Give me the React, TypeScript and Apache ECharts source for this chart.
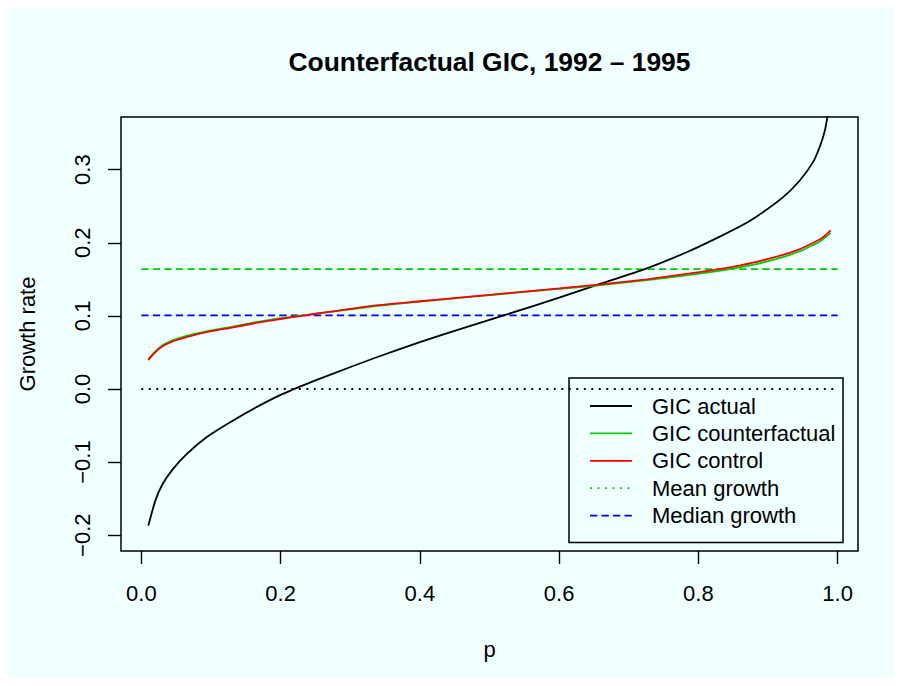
import React, { useEffect, useRef } from "react";
import * as echarts from "echarts";

const P = [0.01, 0.02, 0.03, 0.045, 0.065, 0.095, 0.13, 0.165, 0.2, 0.235, 0.267, 0.334, 0.4, 0.468, 0.525, 0.6, 0.66, 0.726, 0.788, 0.83, 0.86, 0.88, 0.92, 0.945, 0.965, 0.975, 0.982, 0.99];
const GIC_ACTUAL = [-0.187, -0.153, -0.131, -0.11, -0.089, -0.065, -0.044, -0.025, -0.008, 0.006, 0.018, 0.042, 0.064, 0.085, 0.102, 0.125, 0.144, 0.165, 0.189, 0.208, 0.2225, 0.2335, 0.261, 0.2845, 0.311, 0.333, 0.355, 0.4];
const GIC_COUNTERFACTUAL = [0.041, 0.0515, 0.0595, 0.0665, 0.0725, 0.079, 0.085, 0.0915, 0.0968, 0.101, 0.105, 0.113, 0.1195, 0.1255, 0.1305, 0.137, 0.142, 0.149, 0.156, 0.1615, 0.1665, 0.17, 0.18, 0.188, 0.197, 0.202, 0.207, 0.2135];
const GIC_CONTROL = [0.0395, 0.05, 0.058, 0.065, 0.071, 0.078, 0.084, 0.0903, 0.0957, 0.1008, 0.105, 0.114, 0.12, 0.126, 0.131, 0.1375, 0.143, 0.15, 0.158, 0.164, 0.169, 0.173, 0.183, 0.191, 0.2, 0.205, 0.21, 0.217];
const MEAN_GROWTH = 0.164;
const MEDIAN_GROWTH = 0.1008;
const ZERO_LINE = 0;
const X_TICKS = [0, 0.2, 0.4, 0.6, 0.8, 1.0];
const Y_TICKS = [-0.2, -0.1, 0, 0.1, 0.2, 0.3];
const LEGEND_LABELS = ["GIC actual", "GIC counterfactual", "GIC control", "Mean growth", "Median growth"];

const FONT = "'Liberation Sans', Arial, Helvetica, sans-serif";
const BG = "#F0FFFF";
const GREEN = "#00CD00";
const RED = "#FF0000";
const BLUE = "#0000FF";
const BLACK = "#000000";
const LW = 1.8;
const DASH = [7.3, 4.2];
const DOT = [1.9, 5.6];

const LEGEND_STYLES = [
  { color: BLACK, dash: null as number[] | null },
  { color: GREEN, dash: null },
  { color: RED, dash: null },
  { color: GREEN, dash: DOT },
  { color: BLUE, dash: DASH },
];

const fmt = (v: number) => {
  const s = Math.abs(v).toFixed(1);
  return v < -1e-9 ? "\u2212" + s : s;
};

export default function App() {
  const ref = useRef<HTMLDivElement>(null);
  useEffect(() => {
    const chart = echarts.init(ref.current!, null, { renderer: "svg" });
    const lineSeries = (name: string, data: number[][], color: string, dash: any, z = 2, smooth = false) => ({
      name,
      type: "line",
      data,
      symbol: "none",
      smooth: smooth ? 0.2 : false,
      clip: true,
      z,
      lineStyle: { color, width: LW, type: dash || "solid" },
      silent: true,
    });

    const legendX = 561;
    const legendY = 370;
    const legendW = 274;
    const legendH = 164.5;
    const rowY0 = 398;
    const rowDY = 27.4;
    const legendChildren: any[] = [
      {
        type: "rect",
        shape: { x: legendX, y: legendY, width: legendW, height: legendH },
        style: { fill: BG, stroke: BLACK, lineWidth: 1.5 },
      },
    ];
    LEGEND_LABELS.forEach((lab, i) => {
      const y = rowY0 + i * rowDY;
      legendChildren.push({
        type: "line",
        shape: { x1: 582, y1: y, x2: 624, y2: y },
        style: {
          stroke: LEGEND_STYLES[i].color,
          lineWidth: LW,
          lineDash: LEGEND_STYLES[i].dash || undefined,
        },
      });
      legendChildren.push({
        type: "text",
        x: 644,
        y,
        style: {
          text: lab,
          fill: BLACK,
          fontSize: 22,
          fontFamily: FONT,
          verticalAlign: "middle",
          textAlign: "left",
        },
      });
    });

    const option: any = {
      animation: false,
      backgroundColor: BG,
      grid: {
        left: 113,
        top: 109,
        width: 737,
        height: 434,
        show: true,
        borderColor: BLACK,
        borderWidth: 1.5,
        backgroundColor: "transparent",
        containLabel: false,
      },
      xAxis: {
        type: "value",
        min: -0.0292,
        max: 1.0292,
        axisLine: { show: false, onZero: false },
        splitLine: { show: false },
        axisTick: {
          show: true,
          inside: false,
          length: 13,
          lineStyle: { color: BLACK, width: 1.4 },
          customValues: X_TICKS,
        },
        axisLabel: {
          show: true,
          margin: 31,
          fontSize: 22,
          fontFamily: FONT,
          color: BLACK,
          customValues: X_TICKS,
          formatter: (v: number) => fmt(v),
        },
      },
      yAxis: {
        type: "value",
        min: -0.2216,
        max: 0.372,
        axisLine: { show: false, onZero: false },
        splitLine: { show: false },
        axisTick: {
          show: true,
          inside: false,
          length: 13,
          lineStyle: { color: BLACK, width: 1.4 },
          customValues: Y_TICKS,
        },
        axisLabel: {
          show: true,
          margin: 28,
          rotate: 90,
          fontSize: 22,
          fontFamily: FONT,
          color: BLACK,
          customValues: Y_TICKS,
          formatter: (v: number) => fmt(v),
        },
      },
      series: [
        lineSeries("Zero", [[0, ZERO_LINE], [1, ZERO_LINE]], BLACK, DOT, 1),
        lineSeries("Mean growth", [[0, MEAN_GROWTH], [1, MEAN_GROWTH]], GREEN, DASH, 1),
        lineSeries("Median growth", [[0, MEDIAN_GROWTH], [1, MEDIAN_GROWTH]], BLUE, DASH, 1),
        lineSeries("GIC actual", P.map((p, i) => [p, GIC_ACTUAL[i]]), BLACK, null, 2, true),
        lineSeries("GIC counterfactual", P.map((p, i) => [p, GIC_COUNTERFACTUAL[i]]), GREEN, null, 3, true),
        lineSeries("GIC control", P.map((p, i) => [p, GIC_CONTROL[i]]), RED, null, 4, true),
      ],
      graphic: [
        {
          type: "text",
          x: 481.5,
          y: 54,
          style: {
            text: "Counterfactual GIC, 1992 \u2013 1995",
            fill: BLACK,
            fontSize: 26.4,
            fontWeight: "bold",
            fontFamily: FONT,
            textAlign: "center",
            verticalAlign: "middle",
          },
        },
        {
          type: "text",
          x: 481.5,
          y: 641,
          style: {
            text: "p",
            fill: BLACK,
            fontSize: 22,
            fontFamily: FONT,
            textAlign: "center",
            verticalAlign: "middle",
          },
        },
        {
          type: "text",
          x: 19,
          y: 326,
          rotation: Math.PI / 2,
          style: {
            text: "Growth rate",
            fill: BLACK,
            fontSize: 22,
            fontFamily: FONT,
            textAlign: "center",
            verticalAlign: "middle",
          },
        },
        { type: "group", z: 100, children: legendChildren },
      ],
    };
    chart.setOption(option);
    return () => chart.dispose();
  }, []);
  return <div ref={ref} style={{ width: 894, height: 670 }} />;
}
